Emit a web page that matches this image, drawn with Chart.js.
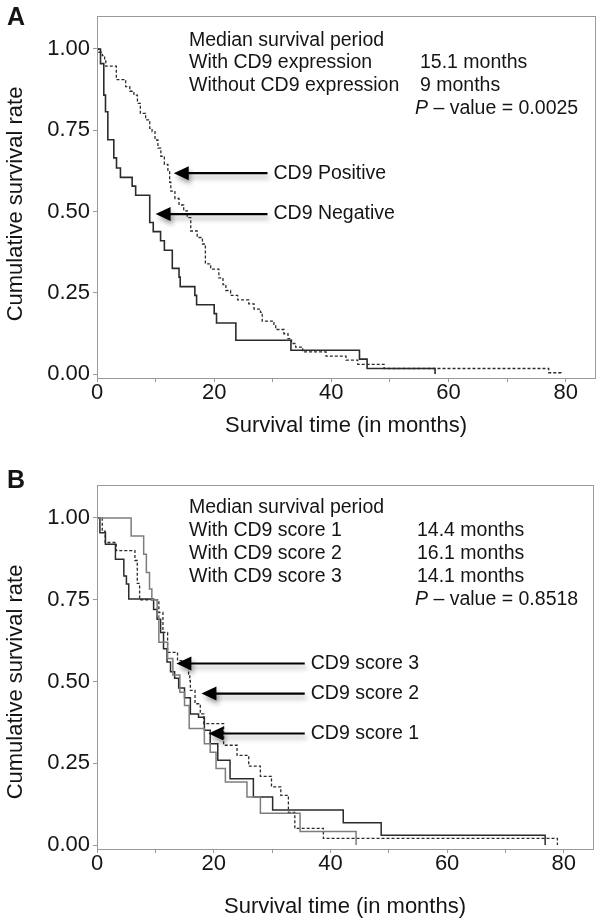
<!DOCTYPE html>
<html>
<head>
<meta charset="utf-8">
<script src="https://cdn.jsdelivr.net/npm/chart.js@4.4.1/dist/chart.umd.min.js"></script>
<style>
  html, body { margin: 0; padding: 0; background: #fff; }
  canvas { display: block; }
</style>
</head>
<body>
<canvas id="chartA" width="602" height="462"></canvas>
<canvas id="chartB" width="602" height="462"></canvas>
<script>
// ---- data (time in months, cumulative survival) ----
const xTickValues = [0, 10, 20, 30, 40, 50, 60, 70, 80];
const yTickValues = [0, 0.25, 0.5, 0.75, 1];

// Panel A: CD9 negative (solid)
const negTime = [0, 0.6, 1.16, 1.45, 1.85, 2.87, 3.33, 4.0, 6.0, 6.6, 9.0, 9.6, 10.85, 11.5, 12.85, 14.0, 14.2, 16.7, 17.0, 20.0, 20.4, 23.7, 33.1, 44.8, 46.1, 57.7];
const negSurv = [1, 0.955, 0.858, 0.807, 0.721, 0.665, 0.634, 0.605, 0.578, 0.55, 0.466, 0.438, 0.41, 0.381, 0.325, 0.298, 0.269, 0.242, 0.213, 0.186, 0.157, 0.104, 0.073, 0.046, 0.017, 0];

// Panel A: CD9 positive (dashed)
const posTime = [0, 0.3, 0.9, 1.3, 1.5, 3.3, 4.9, 5.6, 6.3, 6.9, 7.4, 8.3, 9.0, 9.4, 9.9, 10.4, 10.9, 11.5, 12.1, 12.4, 12.6, 13.3, 14.0, 14.8, 15.4, 16.0, 17.1, 18.0, 18.5, 19.4, 20.8, 21.5, 22.0, 22.8, 24.0, 25.9, 26.8, 27.9, 28.2, 30.2, 30.5, 31.9, 32.6, 33.2, 33.9, 35.1, 39.1, 42.5, 44.5, 49.0, 77.1, 79.2];
const posSurv = [1, 0.99, 0.98, 0.97, 0.947, 0.906, 0.884, 0.87, 0.858, 0.833, 0.802, 0.782, 0.756, 0.746, 0.72, 0.695, 0.67, 0.645, 0.624, 0.59, 0.563, 0.54, 0.52, 0.502, 0.481, 0.44, 0.42, 0.40, 0.339, 0.323, 0.296, 0.275, 0.257, 0.242, 0.228, 0.216, 0.20, 0.19, 0.163, 0.15, 0.137, 0.124, 0.109, 0.094, 0.083, 0.068, 0.055, 0.043, 0.030, 0.017, 0.004, 0];

// Panel B: CD9 score 1 (grey solid)
const s1Time = [0, 5.85, 8.0, 8.46, 9.0, 9.4, 10.3, 10.6, 12.1, 13.0, 14.2, 15.0, 15.8, 18.4, 19.4, 20.4, 22.0, 25.7, 28.0, 34.8, 44.4];
const s1Surv = [1, 0.945, 0.889, 0.833, 0.783, 0.75, 0.70, 0.62, 0.57, 0.52, 0.467, 0.427, 0.356, 0.31, 0.284, 0.234, 0.193, 0.147, 0.097, 0.041, 0];

// Panel B: CD9 score 2 (dashed)
const s2Time = [0, 0.9, 1.4, 3.3, 6.5, 6.9, 7.3, 10.6, 11.3, 12.1, 13.8, 15.7, 15.9, 16.0, 16.8, 17.7, 18.3, 21.7, 24.0, 26.0, 28.0, 29.9, 31.5, 32.8, 33.9, 38.8, 78.9];
const s2Surv = [1, 0.96, 0.925, 0.90, 0.87, 0.80, 0.75, 0.711, 0.65, 0.589, 0.564, 0.523, 0.503, 0.473, 0.432, 0.401, 0.371, 0.305, 0.274, 0.241, 0.21, 0.178, 0.152, 0.10, 0.051, 0.02, 0];

// Panel B: CD9 score 3 (dark solid)
const s3Time = [0, 0.5, 1.45, 3.16, 4.6, 5.04, 5.44, 9.7, 10.3, 10.9, 11.4, 12.0, 12.6, 13.3, 14.0, 15.0, 16.0, 17.4, 18.4, 19.4, 20.7, 22.8, 26.8, 30.1, 42.2, 48.7, 76.8];
const s3Surv = [1, 0.955, 0.92, 0.874, 0.823, 0.798, 0.752, 0.72, 0.69, 0.65, 0.60, 0.56, 0.53, 0.51, 0.48, 0.45, 0.401, 0.391, 0.351, 0.31, 0.259, 0.203, 0.147, 0.107, 0.068, 0.03, 0];

const FONT = '"Liberation Sans", Arial, Helvetica, sans-serif';
const INK = '#151515';
const AXIS = '#9a9a9a';

function steps(times, surv) {
  return times.map((t, i) => ({ x: t, y: surv[i] }));
}

function curve(label, times, surv, color, width, dash) {
  return {
    label,
    data: steps(times, surv),
    borderColor: color,
    borderWidth: width,
    borderDash: dash || [],
    stepped: 'before',
    pointRadius: 0,
    fill: false
  };
}

function drawArrow(ctx, tx, ty, ex) {
  ctx.save();
  ctx.shadowColor = 'rgba(0,0,0,0.35)';
  ctx.shadowBlur = 5;
  ctx.shadowOffsetX = 2;
  ctx.shadowOffsetY = 4;
  ctx.fillStyle = '#000';
  ctx.strokeStyle = '#000';
  ctx.lineWidth = 2.2;
  ctx.beginPath();
  ctx.moveTo(ex, ty);
  ctx.lineTo(tx + 10, ty);
  ctx.stroke();
  ctx.beginPath();
  ctx.moveTo(tx, ty);
  ctx.lineTo(tx + 15, ty - 7);
  ctx.lineTo(tx + 15, ty + 7);
  ctx.closePath();
  ctx.fill();
  ctx.restore();
}

// box around the plot area
const framePlugin = {
  id: 'frame',
  afterDraw(chart) {
    const { ctx, chartArea: a } = chart;
    ctx.save();
    ctx.strokeStyle = AXIS;
    ctx.lineWidth = 1;
    ctx.strokeRect(Math.round(a.left) + 0.5, Math.round(a.top) + 0.5,
      Math.round(a.right - a.left), Math.round(a.bottom - a.top));
    ctx.restore();
  }
};

// y title, median text block, p-value, arrows and panel letter
const notesPlugin = {
  id: 'notes',
  afterDraw(chart, args, o) {
    const { ctx, chartArea: a, scales: { x, y } } = chart;
    ctx.save();
    ctx.fillStyle = INK;
    ctx.textBaseline = 'middle';

    ctx.font = 'bold 25px ' + FONT;
    ctx.textAlign = 'center';
    ctx.fillText(o.letter, 16, o.letterY);

    ctx.save();
    ctx.translate(16, o.yTitleY);
    ctx.rotate(-Math.PI / 2);
    ctx.font = '22px ' + FONT;
    ctx.fillText('Cumulative survival rate', 0, 0);
    ctx.restore();

    ctx.textAlign = 'left';
    ctx.font = '19.5px ' + FONT;
    o.lines.forEach((ln, i) => {
      const yy = a.top + o.textTop + i * o.lineGap;
      ctx.fillText(ln[0], a.left + o.col1, yy);
      if (ln[1]) ctx.fillText(ln[1], a.left + o.col2, yy);
    });

    const py = a.top + o.textTop + o.lines.length * o.lineGap;
    ctx.font = 'italic 19.5px ' + FONT;
    ctx.fillText('P', a.left + o.pCol, py);
    const w = ctx.measureText('P').width;
    ctx.font = '19.5px ' + FONT;
    ctx.fillText(' \u2013 value = ' + o.pValue, a.left + o.pCol + w, py);

    o.arrows.forEach(ar => {
      const tx = x.getPixelForValue(ar.tip[0]);
      const ty = y.getPixelForValue(ar.tip[1]);
      const ex = x.getPixelForValue(ar.tail);
      drawArrow(ctx, tx, ty, ex);
      ctx.fillStyle = INK;
      ctx.fillText(ar.label, ex + 6, ty);
    });
    ctx.restore();
  }
};

function makeChart(id, datasets, layout, notes) {
  return new Chart(document.getElementById(id), {
    type: 'line',
    data: { datasets },
    options: {
      responsive: false,
      animation: false,
      layout: { padding: { top: layout.top, right: layout.right, left: 0, bottom: 0 } },
      plugins: {
        legend: { display: false },
        tooltip: { enabled: false },
        notes
      },
      scales: {
        x: {
          type: 'linear',
          min: 0,
          max: 85,
          afterBuildTicks: s => { s.ticks = xTickValues.map(v => ({ value: v })); },
          afterFit: s => { s.height = layout.xHeight; },
          ticks: {
            autoSkip: false,
            maxRotation: 0,
            padding: 0,
            color: INK,
            font: { family: FONT, size: 22, lineHeight: 1 },
            callback: v => (v % 20 === 0 ? String(v) : '')
          },
          grid: { drawOnChartArea: false, drawTicks: true, tickLength: 4, color: AXIS },
          border: { color: AXIS },
          title: {
            display: true,
            text: 'Survival time (in months)',
            color: INK,
            font: { family: FONT, size: 22 },
            padding: { top: 0, bottom: layout.xTitlePad }
          }
        },
        y: {
          type: 'linear',
          min: -0.0122,
          max: 1.1009,
          afterBuildTicks: s => { s.ticks = yTickValues.map(v => ({ value: v })); },
          afterFit: s => { s.width = 97; },
          ticks: {
            padding: 3,
            color: INK,
            font: { family: FONT, size: 22 },
            callback: v => Number(v).toFixed(2)
          },
          grid: { drawOnChartArea: false, drawTicks: true, tickLength: 4, color: AXIS },
          border: { color: AXIS },
          title: { display: false }
        }
      }
    },
    plugins: [framePlugin, notesPlugin]
  });
}

makeChart('chartA', [
  curve('CD9 Positive', posTime, posSurv, '#2b2b2b', 1.3, [3, 2]),
  curve('CD9 Negative', negTime, negSurv, '#2b2b2b', 1.6)
], { top: 14, right: 7, xHeight: 84, xTitlePad: 23 }, {
  letter: 'A', letterY: 18, yTitleY: 204,
  textTop: 24, lineGap: 22.8, col1: 92, col2: 323, pCol: 318,
  lines: [
    ['Median survival period', ''],
    ['With CD9 expression', '15.1 months'],
    ['Without CD9 expression', '9 months']
  ],
  pValue: '0.0025',
  arrows: [
    { label: 'CD9 Positive', tip: [13.1, 0.618], tail: 29.1 },
    { label: 'CD9 Negative', tip: [10.0, 0.492], tail: 29.1 }
  ]
});

makeChart('chartB', [
  curve('CD9 score 1', s1Time, s1Surv, '#7d7d7d', 1.5),
  curve('CD9 score 2', s2Time, s2Surv, '#2b2b2b', 1.3, [3, 2]),
  curve('CD9 score 3', s3Time, s3Surv, '#2b2b2b', 1.5)
], { top: 23, right: 9, xHeight: 75, xTitlePad: 4 }, {
  letter: 'B', letterY: 19, yTitleY: 220,
  textTop: 23, lineGap: 23, col1: 92, col2: 320, pCol: 318,
  lines: [
    ['Median survival period', ''],
    ['With CD9 score 1', '14.4 months'],
    ['With CD9 score 2', '16.1 months'],
    ['With CD9 score 3', '14.1 months']
  ],
  pValue: '0.8518',
  arrows: [
    { label: 'CD9 score 3', tip: [13.6, 0.555], tail: 35.6 },
    { label: 'CD9 score 2', tip: [17.9, 0.463], tail: 35.6 },
    { label: 'CD9 score 1', tip: [19.1, 0.341], tail: 35.6 }
  ]
});
</script>
</body>
</html>
